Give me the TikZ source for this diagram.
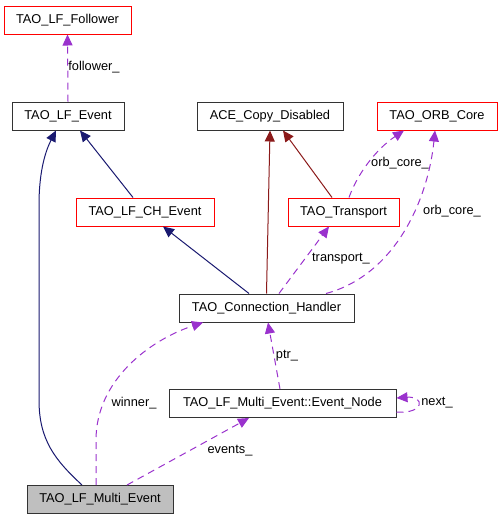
\documentclass[tikz,border=0pt]{standalone}
\usepackage{fontspec}
\setmainfont{Liberation Sans}
\usetikzlibrary{arrows.meta,positioning}

\definecolor{usepurple}{HTML}{9A32CD}
\definecolor{basenavy}{HTML}{191970}
\definecolor{basered}{HTML}{8B1A1A}
\definecolor{boxgray}{HTML}{BFBFBF}

\begin{document}
\begin{tikzpicture}[x=1pt,y=-1pt,
  cls/.style={draw=black!80,line width=1pt,minimum height=28pt,inner sep=0pt,
    font=\fontsize{12.8}{15}\selectfont},
  clsred/.style={cls,draw=red},
  lbl/.style={inner sep=0pt,font=\fontsize{12.8}{15}\selectfont},
  tip/.style={-{Triangle[length=11pt,width=10pt]}},
  base/.style={draw=basenavy,line width=1pt,tip},
  basepriv/.style={draw=basered,line width=1pt,tip},
  member/.style={draw=usepurple,line width=1pt,dash pattern=on 7pt off 5pt,tip}]
\useasboundingbox (0,0) rectangle (503,520);

% classes
\node[clsred,minimum width=127pt] (fol) at (67.5,20) {TAO\_LF\_Follower};
\node[cls,minimum width=112pt] (ev) at (68,116) {TAO\_LF\_Event};
\node[cls,minimum width=146pt] (ace) at (270,116) {ACE\_Copy\_Disabled};
\node[clsred,minimum width=120pt] (orb) at (437,116) {TAO\_ORB\_Core};
\node[clsred,minimum width=138pt] (chev) at (145,212) {TAO\_LF\_CH\_Event};
\node[clsred,minimum width=111pt] (tr) at (343.5,212) {TAO\_Transport};
\node[cls,minimum width=175pt] (conn) at (266.5,308) {TAO\_Connection\_Handler};
\node[cls,minimum width=227pt] (evnode) at (282.5,403.5) {TAO\_LF\_Multi\_Event::Event\_Node};
\node[cls,fill=boxgray,minimum width=146pt] (multi) at (100,499.5) {TAO\_LF\_Multi\_Event};

% inheritance
\draw[base] ([xshift=-18pt]multi.north) .. controls (55,460) and (39,440) .. (39,400)
  -- (39,205) .. controls (39,170) and (46,150) .. ([xshift=-12pt]ev.south);
\draw[base] ([xshift=-12pt]chev.north) -- ([xshift=12pt]ev.south);
\draw[base] ([xshift=-17.5pt]conn.north) -- ([xshift=18pt]chev.south);
\draw[basepriv] (conn.north) -- (ace.south);
\draw[basepriv] ([xshift=-11.5pt]tr.north) -- ([xshift=13pt]ace.south);

% members
\draw[member] (ev.north) -- (fol.south) node[lbl] at (94,67) {follower\_};
\draw[member] ([xshift=5.5pt]tr.north) .. controls (357,175) and (375,150) .. ([xshift=-33pt]orb.south)
  node[lbl] at (400,163) {orb\_core\_};
\draw[member] ([xshift=59.5pt]conn.north) .. controls (395,275) and (428,200) .. ([xshift=-2pt]orb.south)
  node[lbl] at (452,211) {orb\_core\_};
\draw[member] ([xshift=12.5pt]conn.north) -- ([xshift=-14.5pt]tr.south)
  node[lbl] at (341,259) {transport\_};
\draw[member] ([xshift=-2.5pt]evnode.north) -- ([xshift=1.5pt]conn.south)
  node[lbl] at (287,356) {ptr\_};
\draw[member] ([xshift=-4pt]multi.north) -- (96,440) .. controls (96,380) and (150,340) .. ([xshift=-63.5pt]conn.south)
  node[lbl] at (134,403) {winner\_};
\draw[member] ([xshift=27pt]multi.north) -- ([xshift=-33.5pt]evnode.south)
  node[lbl] at (230,451) {events\_};
\draw[member] ([yshift=-8.5pt]evnode.east) .. controls (425,414) and (425,396) .. ([yshift=5.5pt]evnode.east)
  node[lbl] at (437,403) {next\_};
\end{tikzpicture}
\end{document}
